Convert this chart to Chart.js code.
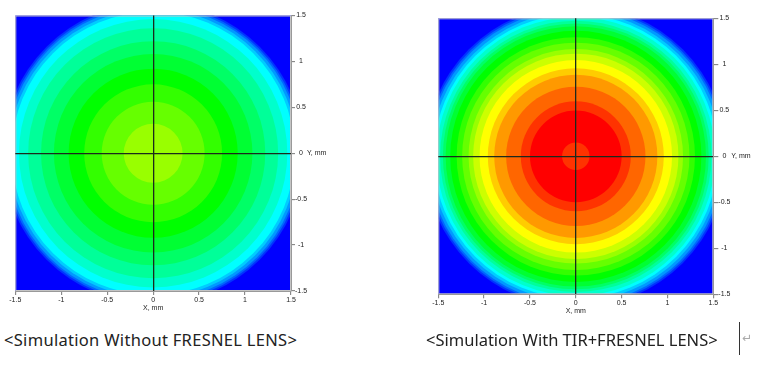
<!DOCTYPE html>
<html>
<head>
<meta charset="utf-8">
<script src="https://cdn.jsdelivr.net/npm/chart.js@4"></script>
<style>
  body { margin: 0; width: 768px; height: 366px; background: #fff; position: relative; overflow: hidden; }
  canvas { position: absolute; }
  .caption { position: absolute; top: 328px; font-family: "Noto Sans", sans-serif; font-size: 16.5px; color: #222; white-space: nowrap; }
  .cursor { position: absolute; left: 739px; top: 322px; width: 1px; height: 33px; background: #333; }
  .mark { position: absolute; left: 742px; top: 331px; font-family: "DejaVu Sans"; font-size: 12px; color: #aaa; }
</style>
</head>
<body>
<canvas id="plain" width="345" height="325" style="left:0;top:0"></canvas>
<canvas id="fresnel" width="348" height="330" style="left:420px;top:0"></canvas>
<div class="caption" id="cap0" style="left:4px;letter-spacing:0.3px"></div>
<div class="caption" id="cap1" style="left:426px"></div>
<div class="cursor"></div>
<div class="mark">&#8629;</div>
<script>
// colour levels of the irradiance map, lowest (blue) to highest (red)
const levelColors = ['#0000ff', '#0033ff', '#0066ff', '#0099ff', '#00ccff', '#00ffff', '#00ffcc',
  '#00ff99', '#00ff66', '#00ff33', '#00ff00', '#33ff00', '#66ff00', '#99ff00', '#ccff00',
  '#ffff00', '#ffcc00', '#ff9900', '#ff6600', '#ff3300', '#ff0000'];

const tickValues = [-1.5, -1, -0.5, 0, 0.5, 1, 1.5];
const tickLabels = ['-1.5', '-1', '-0.5', '0', '0.5', '1', '1.5'];
const xTitle = 'X, mm';
const yTitle = 'Y, mm';

// contour radius in mm (outer first) and the level filling inside it
const plainRadii  = [2.2, 1.64, 1.62, 1.60, 1.57, 1.54, 1.46, 1.36, 1.22, 1.08, 0.92, 0.75, 0.56, 0.32];
const plainLevels = [0, 1, 2, 3, 4, 5, 6, 7, 8, 9, 10, 11, 12, 13];

const fresnelRadii  = [2.2, 1.65, 1.63, 1.61, 1.58, 1.55, 1.52, 1.48, 1.45, 1.42, 1.37, 1.30, 1.24,
  1.17, 1.12, 1.05, 0.96, 0.89, 0.76, 0.60, 0.50, 0.15];
const fresnelLevels = [0, 1, 2, 3, 4, 5, 6, 7, 8, 9, 10, 11, 12, 13, 14, 15, 16, 17, 18, 19, 20, 19];

const captions = ['<Simulation Without FRESNEL LENS>', '<Simulation With TIR+FRESNEL LENS>'];

const tickFont = { family: 'Liberation Sans', size: 7 };

// bubble whose size is a radius in x-axis units (mm) instead of pixels
class RingController extends Chart.BubbleController {
  resolveDataElementOptions(index, mode) {
    const opts = super.resolveDataElementOptions(index, mode);
    const item = this.getDataset().data[index];
    const s = this._cachedMeta.xScale;
    if (item && s) {
      const px = Math.abs(s.getPixelForValue(item.mm) - s.getPixelForValue(0));
      opts.radius = isFinite(px) ? px : 0;
    }
    return opts;
  }
}
RingController.id = 'rings';
RingController.defaults = Chart.BubbleController.defaults;
RingController.overrides = Chart.BubbleController.overrides;
Chart.register(RingController);

const frame = {
  id: 'frame',
  afterDatasetsDraw(chart) {
    const a = chart.chartArea, c = chart.ctx;
    c.save();
    c.strokeStyle = '#c4c4c4';
    c.lineWidth = 1;
    c.strokeRect(a.left + 0.5, a.top + 0.5, a.right - a.left - 1, a.bottom - a.top - 1);
    c.restore();
  }
};

function drawMap(id, radii, levels, lay) {
  const crossColor = ctx => ctx.tick && ctx.tick.value === 0 ? '#1c2a1c' : 'rgba(0,0,0,0)';
  return new Chart(document.getElementById(id), {
    type: 'rings',
    data: {
      datasets: [{
        data: radii.map(r => ({ x: 0, y: 0, mm: r })),
        backgroundColor: radii.map((r, i) => levelColors[levels[i]]),
        borderWidth: 0,
        clip: 0
      }]
    },
    options: {
      responsive: false,
      animation: false,
      events: [],
      layout: { padding: lay.padding },
      plugins: { legend: { display: false }, tooltip: { enabled: false } },
      scales: {
        x: {
          type: 'linear', min: -1.5, max: 1.5,
          afterBuildTicks: s => { s.ticks = tickValues.map(v => ({ value: v })); },
          afterFit: s => { s.height = lay.xHeight; },
          ticks: { font: tickFont, color: '#222', padding: 1, maxRotation: 0, autoSkip: false,
                   callback: (v, i) => tickLabels[i] },
          grid: { z: 1, lineWidth: 1.3, tickLength: 4, tickColor: '#777', tickWidth: 1, color: crossColor },
          border: { z: 1, color: '#999', width: 1 },
          title: { display: true, text: xTitle, font: tickFont, color: '#222', padding: 0 }
        },
        y: {
          type: 'linear', position: 'right', min: -1.5, max: 1.5,
          afterBuildTicks: s => { s.ticks = tickValues.map(v => ({ value: v })); },
          afterFit: s => { s.width = lay.yWidth; },
          ticks: { font: tickFont, color: '#222', padding: 0, crossAlign: 'center',
                   callback: (v, i) => tickLabels[i] },
          grid: { z: 1, lineWidth: 1.3, tickLength: lay.yTick, tickColor: '#777', tickWidth: 1, color: crossColor },
          border: { z: 1, color: '#999', width: 1 }
        },
        y2: {
          type: 'linear', position: 'right', weight: 1, min: -1.5, max: 1.5,
          afterBuildTicks: s => { s.ticks = [{ value: 0 }]; },
          afterFit: s => { s.width = 30; },
          ticks: { font: tickFont, color: '#222', padding: 0, callback: () => yTitle },
          grid: { display: false, drawTicks: false, tickLength: 0 },
          border: { display: false }
        }
      }
    },
    plugins: [frame]
  });
}

drawMap('plain', plainRadii, plainLevels,
  { padding: { left: 15.3, top: 15.5, right: 8, bottom: 12.8 }, xHeight: 21.2, yWidth: 16, yTick: 4 });
drawMap('fresnel', fresnelRadii, fresnelLevels,
  { padding: { left: 18.3, top: 18.3, right: 6.7, bottom: 14.8 }, xHeight: 20.9, yWidth: 18, yTick: 5 });

document.getElementById('cap0').textContent = captions[0];
document.getElementById('cap1').textContent = captions[1];
</script>
</body>
</html>
